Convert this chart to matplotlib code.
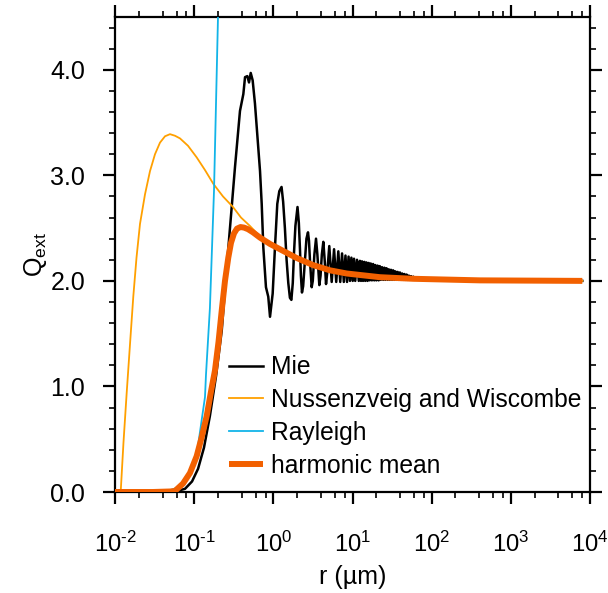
import matplotlib
matplotlib.use("Agg")
import matplotlib.pyplot as plt
from matplotlib.ticker import FixedLocator, FuncFormatter, NullFormatter

plt.rcParams["font.family"] = ["Liberation Sans", "DejaVu Sans"]
plt.rcParams["mathtext.fontset"] = "custom"
plt.rcParams["mathtext.rm"] = "Liberation Sans"
plt.rcParams["mathtext.it"] = "Liberation Sans:italic"
plt.rcParams["mathtext.bf"] = "Liberation Sans:bold"

FS = 18
LFS = 17.7

# Mie (black)
mie_r = [0.01, 0.03, 0.05, 0.0573, 0.0766, 0.094, 0.112, 0.133, 0.158, 0.189,
         0.223, 0.258, 0.298, 0.328, 0.379, 0.418, 0.439, 0.469, 0.493, 0.518,
         0.548, 0.586, 0.645, 0.679, 0.713, 0.747, 0.807, 0.863, 0.908, 0.981,
         1.049, 1.122, 1.19, 1.27, 1.33, 1.40, 1.47, 1.545, 1.62, 1.69,
         1.76, 1.82, 1.90, 2.02, 2.10, 2.17, 2.23, 2.30, 2.38, 2.51,
         2.62, 2.74, 2.82, 2.90, 3.05, 3.15, 3.30, 3.46, 3.60, 3.81,
         3.95, 4.10, 4.28, 4.45, 4.63, 4.80, 5.09, 5.25, 5.46,
         5.85, 6.23, 6.62, 7.00, 7.38, 7.77, 8.15, 8.53, 8.92, 9.30,
         9.68, 10.07, 10.45, 10.83, 11.4, 12.0, 12.4, 12.8, 13.2, 13.6,
         14.1, 14.5, 15.0, 15.5, 16.0, 16.5, 17.0, 17.6, 18.2, 18.8,
         19.4, 20.0, 20.7, 21.4, 22.1, 22.8, 23.6, 24.4, 25.2, 26.0,
         26.9, 27.8, 28.7, 29.6, 30.6, 31.6, 32.6, 33.7, 34.8, 36.0,
         37.2, 38.4, 39.7, 41.0, 42.4, 43.8, 45.2, 46.7, 48.2, 49.8,
         51.5, 53.2, 55.0, 56.8, 58.7, 60.6, 65.0, 70.0, 80.0, 100.0,
         200.0, 1000.0, 8000.0]
mie_q = [0.0, 0.0, 0.0, 0.005, 0.03, 0.10, 0.22, 0.42, 0.72, 1.10,
         1.53, 2.13, 2.70, 3.08, 3.61, 3.77, 3.93, 3.94, 3.88, 3.97,
         3.90, 3.68, 3.27, 3.04, 2.73, 2.32, 1.94, 1.85, 1.66, 1.88,
         2.32, 2.73, 2.85, 2.89, 2.75, 2.50, 2.20, 1.98, 1.84, 1.82,
         1.98, 2.25, 2.52, 2.70, 2.55, 2.30, 2.05, 1.89, 1.95, 2.20,
         2.40, 2.46, 2.38, 2.20, 1.94, 2.00, 2.25, 2.40, 2.25, 1.96,
         2.05, 2.25, 2.37, 2.20, 1.97, 2.08, 2.33, 2.18, 1.99,
         2.30, 1.99, 2.28, 1.99, 2.26, 1.99, 2.24, 1.99, 2.23, 2.00,
         2.22, 2.00, 2.21, 2.00, 2.20, 2.00, 2.19, 2.00, 2.185, 2.00,
         2.18, 2.00, 2.175, 2.00, 2.17, 2.005, 2.165, 2.005, 2.16, 2.005,
         2.15, 2.005, 2.145, 2.005, 2.14, 2.01, 2.13, 2.01, 2.125, 2.01,
         2.12, 2.01, 2.11, 2.01, 2.105, 2.01, 2.10, 2.01, 2.09, 2.01,
         2.085, 2.01, 2.08, 2.01, 2.07, 2.01, 2.065, 2.01, 2.06, 2.01,
         2.05, 2.01, 2.045, 2.01, 2.04, 2.01, 2.03, 2.01, 2.015, 2.01,
         2.005, 2.002, 2.0]

# Nussenzveig and Wiscombe (orange)
nw_r = [0.01, 0.0118, 0.0128, 0.01405, 0.01547, 0.01702, 0.01869, 0.02069,
        0.02393, 0.02768, 0.0320, 0.03702, 0.04281, 0.0495, 0.05725, 0.06622,
        0.0836, 0.1076, 0.137, 0.1744, 0.2312, 0.3093, 0.3904, 0.5073, 0.679,
        1.213, 3.17, 8.45, 22.2, 58.0, 407.0, 8000.0]
nw_q = [0.0, 0.0, 0.47, 0.94, 1.40, 1.85, 2.22, 2.54,
        2.82, 3.04, 3.20, 3.31, 3.37, 3.39, 3.375, 3.35,
        3.28, 3.17, 3.05, 2.92, 2.80, 2.70, 2.60, 2.52, 2.42,
        2.30, 2.15, 2.07, 2.035, 2.02, 2.005, 2.0]

# Rayleigh (cyan)
ray_r = [0.01, 0.03, 0.05, 0.063, 0.079, 0.089, 0.1, 0.112, 0.126, 0.137,
         0.141, 0.158, 0.178, 0.2, 0.205]
ray_q = [0.0, 0.002, 0.018, 0.044, 0.11, 0.176, 0.28, 0.44, 0.71, 0.90,
         1.11, 1.74, 2.85, 4.5, 4.97]

# harmonic mean (thick orange-red)
hm_r = [0.01, 0.03, 0.05, 0.0573, 0.0723, 0.0885, 0.1076, 0.1245, 0.144, 0.163,
        0.183, 0.2029, 0.223, 0.2451, 0.2698, 0.2918, 0.3185, 0.3475, 0.3847,
        0.426, 0.4785, 0.5535, 0.6786, 0.9073, 1.213, 1.93, 3.17, 5.20, 8.45,
        22.2, 58.0, 407.0, 8000.0]
hm_q = [0.0, 0.0, 0.005, 0.01, 0.08, 0.18, 0.34, 0.52, 0.72, 0.95,
        1.15, 1.42, 1.72, 2.00, 2.22, 2.36, 2.45, 2.495, 2.51,
        2.505, 2.49, 2.46, 2.41, 2.35, 2.30, 2.22, 2.15, 2.10, 2.07,
        2.035, 2.02, 2.005, 2.0]

x_major = [1e-2, 1e-1, 1e0, 1e1, 1e2, 1e3, 1e4]
x_exp = ["-2", "-1", "0", "1", "2", "3", "4"]
x_minor = [m * d for d in [1e-2, 1e-1, 1e0, 1e1, 1e2, 1e3] for m in (2, 4, 6, 8)]
y_major = [0.0, 1.0, 2.0, 3.0, 4.0]
y_minor = [0.2, 0.4, 0.6, 0.8, 1.2, 1.4, 1.6, 1.8, 2.2, 2.4, 2.6, 2.8,
           3.2, 3.4, 3.6, 3.8, 4.2, 4.4]

fig = plt.figure(figsize=(6.08, 5.93), dpi=100)
ax = fig.add_axes([115 / 608, 1 - 492 / 593, 475 / 608, 475 / 593])

ax.plot(mie_r, mie_q, color="black", lw=1.8, label="Mie", zorder=2)
ax.plot(nw_r, nw_q, color="#FFA000", lw=1.3, label="Nussenzveig and Wiscombe", zorder=3)
ax.plot(ray_r, ray_q, color="#12B4E8", lw=1.3, label="Rayleigh", zorder=3)
ax.plot(hm_r, hm_q, color="#F26000", lw=4.3, label="harmonic mean", zorder=4,
        solid_capstyle="butt")

ax.set_xscale("log")
ax.set_xlim(1e-2, 1e4)
ax.set_ylim(0, 4.5)

ax.xaxis.set_major_locator(FixedLocator(x_major))
ax.xaxis.set_minor_locator(FixedLocator(x_minor))
ax.xaxis.set_minor_formatter(NullFormatter())
ax.set_xticklabels([r"$10^{\mathregular{%s}}$" % e.replace("-", r"\text{-}") for e in x_exp])
ax.yaxis.set_major_locator(FixedLocator(y_major))
ax.yaxis.set_minor_locator(FixedLocator(y_minor))
ax.yaxis.set_major_formatter(FuncFormatter(lambda v, p: "%.1f" % v))

for s in ax.spines.values():
    s.set_linewidth(1.6)
ax.tick_params(which="both", direction="out", top=True, right=True)
ax.tick_params(axis="y", labelsize=FS)
ax.tick_params(axis="x", labelsize=17.2)
ax.tick_params(which="major", length=8.5, width=1.6)
ax.tick_params(which="minor", length=4.5, width=1.2)
ax.tick_params(axis="y", which="major", pad=13)
ax.tick_params(axis="x", which="major", pad=20)

ax.set_xlabel("r (\u00b5m)", fontsize=FS, labelpad=6)
ax.set_ylabel(r"Q$_{\mathrm{ext}}$", fontsize=FS, labelpad=1)

ax.legend(loc="upper left", bbox_to_anchor=(0.24, 0.288), frameon=False,
          fontsize=LFS, handlelength=1.4, handletextpad=0.3, labelspacing=0.36,
          borderpad=0, borderaxespad=0)

fig.savefig("out.png", dpi=100)
